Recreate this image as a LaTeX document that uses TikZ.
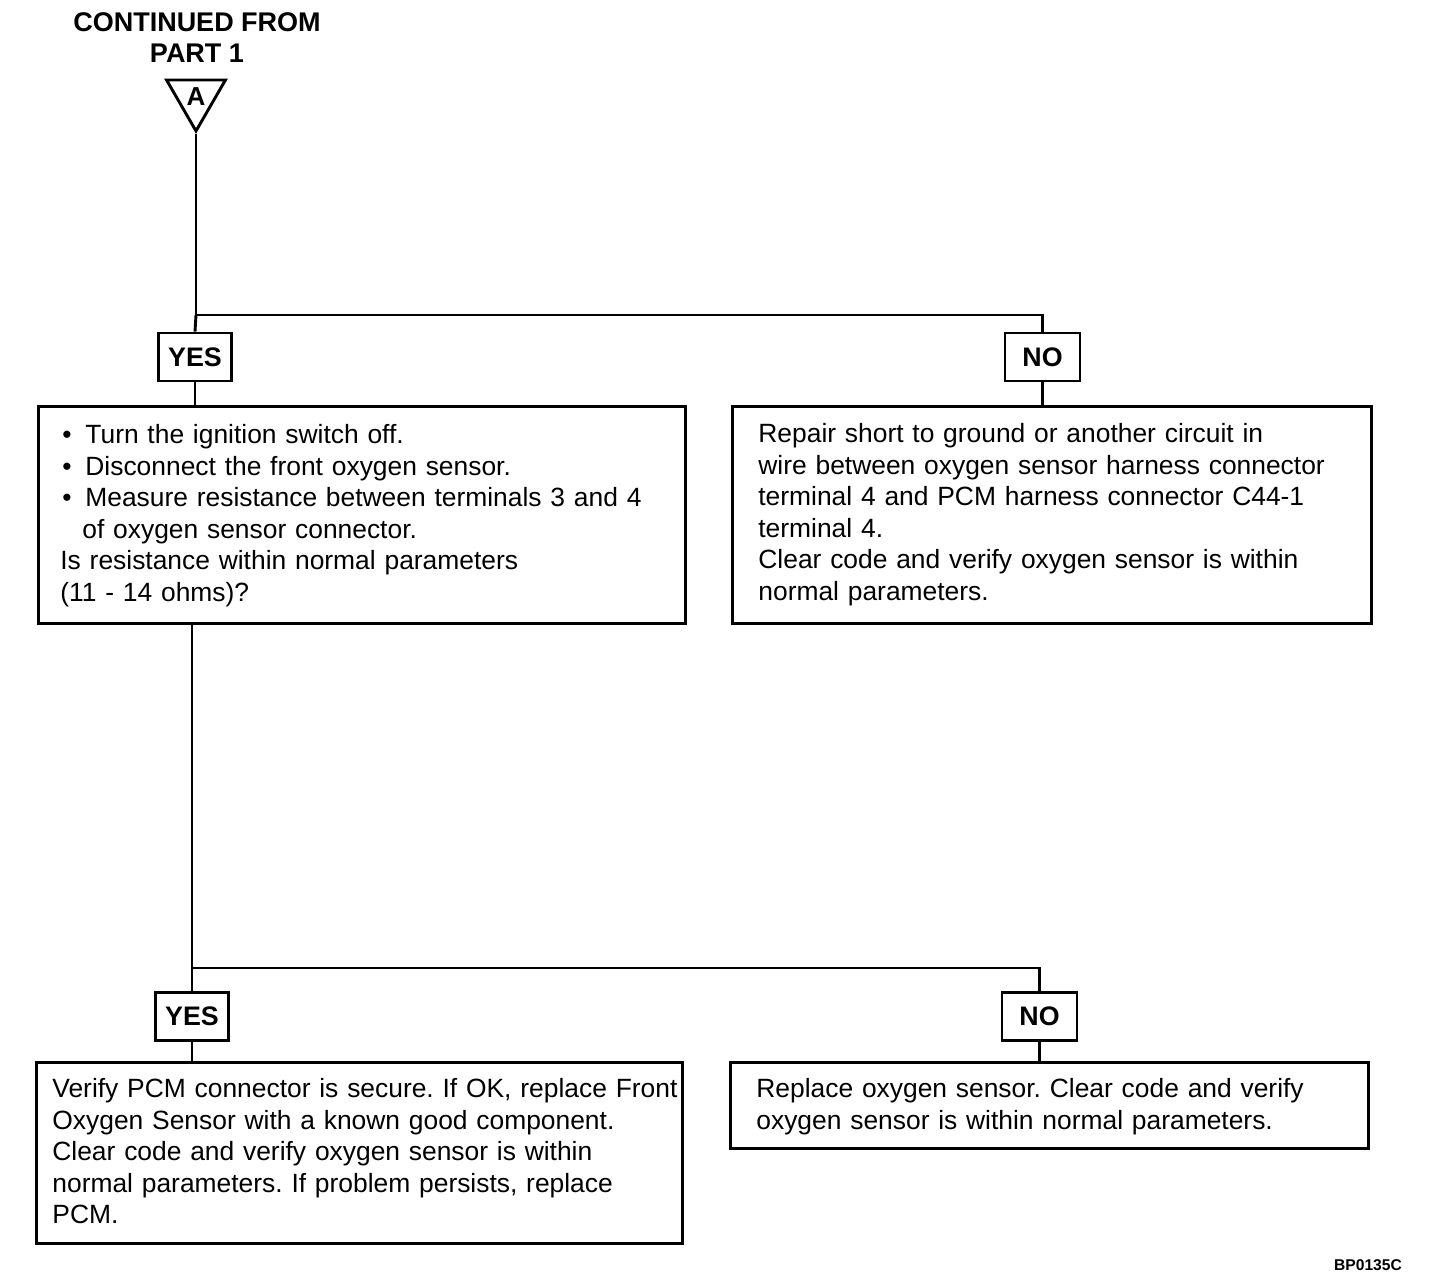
\documentclass[tikz,border=0pt]{standalone}
\usepackage{fontspec}
\setmainfont{Liberation Sans}
\usetikzlibrary{shapes.geometric,calc}
\frenchspacing

\tikzset{
  flow/.style={line width=1.45pt},
  stepbox/.style={draw, line width=1.35pt, anchor=north west, inner sep=0pt},
  steptext/.style={anchor=north west, inner sep=0pt, align=left, text width=330pt, font=\fontsize{13.2pt}{15.8pt}\selectfont},
  answer/.style={draw, line width=1.35pt, minimum width=36.5pt, minimum height=24pt, inner sep=0pt, font=\fontsize{13.4pt}{15.8pt}\selectfont\bfseries},
}

\begin{document}
\begin{tikzpicture}[x=0.5pt, y=-0.5pt]
\useasboundingbox (0,0) rectangle (1440,1288);

% Header and off-page connector
\node[font=\fontsize{13.5pt}{15.5pt}\selectfont\bfseries, align=center] (from) at (197,38) {CONTINUED FROM\\PART 1};
\node[regular polygon, regular polygon sides=3, shape border rotate=180, draw, line width=1.45pt,
      minimum size=34pt, inner sep=0pt, font=\fontsize{13pt}{15pt}\selectfont\bfseries] (partA) at (196,97) {A};

% YES / NO labels
\node[answer] (yes1) at (195,357) {YES};
\node[answer, minimum width=37.5pt] (no1) at (1042.5,357) {NO};
\node[answer] (yes2) at (192,1016.5) {YES};
\node[answer, minimum width=37.5pt] (no2) at (1039.5,1016.5) {NO};

% Boxes
\node[stepbox, minimum width=323.5pt, minimum height=108.5pt] (check) at (37,405) {};
\node[stepbox, minimum width=319.5pt, minimum height=108.5pt] (repair) at (731,405) {};
\node[stepbox, minimum width=323pt, minimum height=90.5pt] (replacepcm) at (35,1061) {};
\node[stepbox, minimum width=319pt, minimum height=43pt] (replacesensor) at (729,1061) {};

% Box texts
\node[steptext] (checktext) at ($(check.north west)+(23,16)$) {\strut\makebox[12.5pt][l]{\hspace*{1pt}\textbullet}Turn the ignition switch off.\\
\makebox[12.5pt][l]{\hspace*{1pt}\textbullet}Disconnect the front oxygen sensor.\\
\makebox[12.5pt][l]{\hspace*{1pt}\textbullet}Measure resistance between terminals 3 and 4\\
\hspace*{11pt}of oxygen sensor connector.\\
Is resistance within normal parameters\\
(11 - 14 ohms)?};
\node[steptext] (repairtext) at ($(repair.north west)+(27,15)$) {\strut Repair short to ground or another circuit in\\
wire between oxygen sensor harness connector\\
terminal 4 and PCM harness connector C44-1\\
terminal 4.\\
Clear code and verify oxygen sensor is within\\
normal parameters.};
\node[steptext] (replacepcmtext) at ($(replacepcm.north west)+(17,14)$) {\strut Verify PCM connector is secure. If OK, replace Front\\
Oxygen Sensor with a known good component.\\
Clear code and verify oxygen sensor is within\\
normal parameters. If problem persists, replace\\
PCM.};
\node[steptext] (replacesensortext) at ($(replacesensor.north west)+(27,14)$) {\strut Replace oxygen sensor. Clear code and verify\\
oxygen sensor is within normal parameters.};

\node[font=\fontsize{7.8pt}{9pt}\selectfont\bfseries] (figid) at (1368,1265) {BP0135C};

% Connectors
\coordinate (split1) at (partA.south |- 0,315);
\coordinate (split2) at (yes2.north |- 0,968);
\draw[flow] (partA.south) -- (split1) -| (no1.north);
\draw[flow] (split1) -- (yes1.north);
\draw[flow] (yes1.south) -- (yes1.south |- check.north);
\draw[flow] (no1.south) -- (no1.south |- repair.north);
\draw[flow] (yes2.north |- check.south) -- (split2) -| (no2.north);
\draw[flow] (split2) -- (yes2.north);
\draw[flow] (yes2.south) -- (yes2.south |- replacepcm.north);
\draw[flow] (no2.south) -- (no2.south |- replacesensor.north);
\end{tikzpicture}
\end{document}
